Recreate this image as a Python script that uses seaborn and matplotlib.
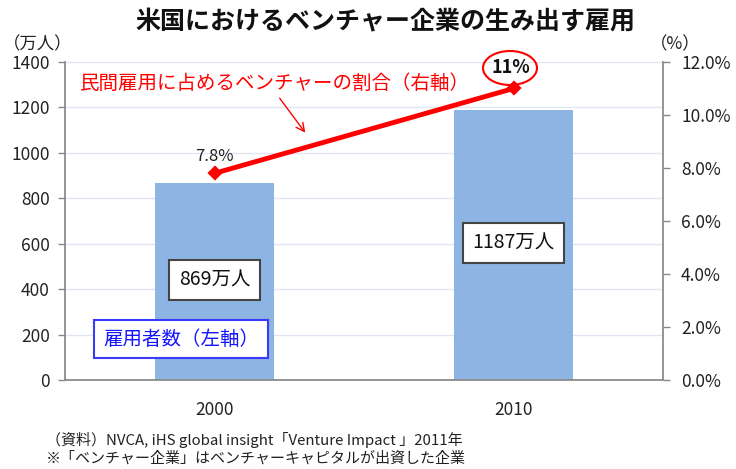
import matplotlib
matplotlib.use("Agg")
import matplotlib.pyplot as plt
import seaborn as sns
import pandas as pd
from matplotlib.patches import Ellipse, FancyArrowPatch

years = ["2000", "2010"]
employees = [869, 1187]          # 万人
share = [7.8, 11.0]              # %
emp_labels = ["869万人", "1187万人"]
share_labels = ["7.8%", "11%"]
left_ticks = [0, 200, 400, 600, 800, 1000, 1200, 1400]
right_ticks = [0, 2, 4, 6, 8, 10, 12]

sns.set_theme(style="white")
plt.rcParams['font.family'] = ['Noto Sans CJK JP', 'DejaVu Sans']

df = pd.DataFrame({"year": years, "emp": employees, "share": share})

fig = plt.figure(figsize=(7.36, 4.69), dpi=100)
ax = fig.add_axes([65/736, 1-380/469, (663-65)/736, (380-62)/469])

sns.barplot(data=df, x="year", y="emp", ax=ax, color="#8DB4E2", saturation=1,
            width=0.4, edgecolor="none", zorder=2)
ax.set_ylim(0, 1400)
ax.set_xlim(-0.5, 1.5)
ax.set_yticks(left_ticks)
ax.set_yticklabels([str(t) for t in left_ticks], fontsize=12.5, color="#222222")
ax.set_xticks([0, 1])
ax.set_xticklabels(years, fontsize=12.5, color="#222222")
ax.set_xticks([-0.5, 0.5, 1.5], minor=True)
ax.tick_params(axis="x", which="major", length=0, pad=15)
ax.tick_params(axis="x", which="minor", length=5, color="#888888", width=1)
ax.tick_params(axis="y", length=5, color="#888888", width=1, direction="out", left=True, pad=6)
ax.set_xlabel("")
ax.set_ylabel("")
ax.yaxis.grid(True, color="#dfe6f2", linewidth=1)
ax.set_axisbelow(True)
for s in ["top", "right"]:
    ax.spines[s].set_visible(False)
ax.spines["left"].set_color("#888888")
ax.spines["bottom"].set_color("#888888")

ax2 = ax.twinx()
sns.pointplot(data=df, x="year", y="share", ax=ax2, color="#FF0000", markers="D",
              markersize=5, linewidth=3.5, zorder=5)
ax2.set_ylim(0, 12)
ax2.set_xlim(-0.5, 1.5)
ax2.set_yticks(right_ticks)
ax2.set_yticklabels([f"{t:.1f}%" for t in right_ticks], fontsize=12.5, color="#222222")
ax2.tick_params(axis="y", length=5, color="#888888", width=1, direction="out", right=True, pad=8)
ax2.set_ylabel("")
ax2.set_xlabel("")
for s in ["top", "left", "bottom"]:
    ax2.spines[s].set_visible(False)
ax2.spines["right"].set_color("#888888")

# labels for share
ax2.annotate(share_labels[0], (0, share[0]), xytext=(0, 6), textcoords="offset points",
             ha="center", va="bottom", fontsize=12, color="#222222")
ax2.annotate(share_labels[1], (1, share[1]), xytext=(-2, 8), textcoords="offset points",
             ha="center", va="bottom", fontsize=13, fontweight="bold", color="#111111")
fig.patches.append(Ellipse((510/736, 1-68/469), 54/736, 34/469, transform=fig.transFigure,
                           fill=False, edgecolor="#FF0000", linewidth=1.5))

# employee boxes
emp_pos = [440, 603]
for i, (lab, yp) in enumerate(zip(emp_labels, emp_pos)):
    ax.text(i, yp, lab, ha="center", va="center", fontsize=14, color="#111111", zorder=6,
            bbox=dict(boxstyle="square,pad=0.5", fc="white", ec="#444444", lw=1.5))

# blue legend box
fig.text(181/736, 1-339/469, "雇用者数（左軸）", ha="center", va="center", fontsize=14,
         color="#1515ff", zorder=10,
         bbox=dict(boxstyle="square,pad=0.45", fc="white", ec="#3a3aff", lw=1.5))

# red label & arrow
fig.text(80/736, 1-83/469, "民間雇用に占めるベンチャーの割合（右軸）", ha="left", va="center",
         fontsize=14, color="#FF0000")
fig.add_artist(FancyArrowPatch(
    (278/736, 1-96/469), (307/736, 1-135/469), transform=fig.transFigure,
    arrowstyle="->,head_length=6,head_width=3", color="#FF0000", lw=1))

# title & units
fig.text(385/736, 1-22/469, "米国におけるベンチャー企業の生み出す雇用", ha="center", va="center",
         fontsize=18, fontweight="bold", color="#111111")
fig.text(38/736, 1-44/469, "（万人）", ha="center", va="center", fontsize=12.5, color="#222222")
fig.text(675/736, 1-44/469, "（%）", ha="center", va="center", fontsize=12.5, color="#222222")

# footnotes
fig.text(46/736, 1-440/469, "（資料）NVCA, iHS global insight「Venture Impact 」2011年",
         ha="left", va="center", fontsize=10.8, color="#222222")
fig.text(46/736, 1-458/469, "※「ベンチャー企業」はベンチャーキャピタルが出資した企業",
         ha="left", va="center", fontsize=10.8, color="#222222")

fig.savefig("out.png", dpi=100)
